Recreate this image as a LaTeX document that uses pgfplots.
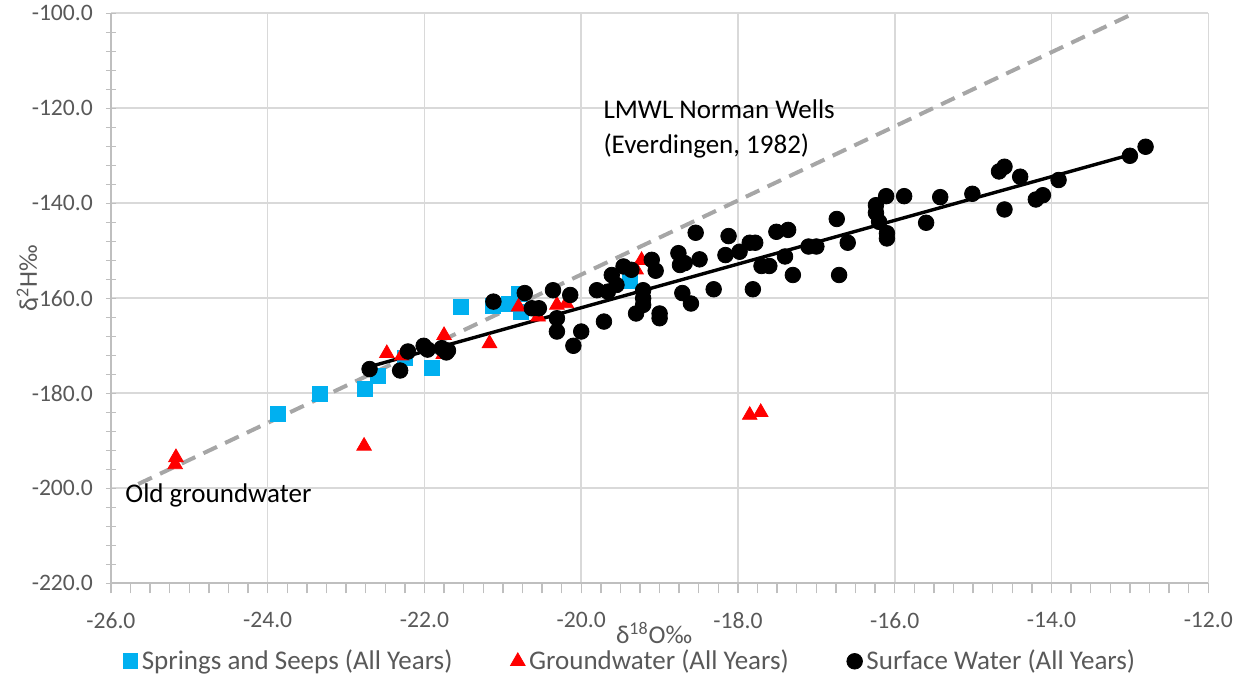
\documentclass[border=0pt]{standalone}
\usepackage{pgfplots}
\pgfplotsset{compat=1.18}
\usepackage{fontspec}
\setmainfont{Carlito}

\definecolor{spring}{HTML}{00B0F0}
\definecolor{lmwl}{HTML}{A6A6A6}
\definecolor{gridc}{HTML}{D9D9D9}
\definecolor{axisc}{HTML}{BFBFBF}
\definecolor{labc}{HTML}{595959}

\begin{document}
\begin{tikzpicture}
\begin{axis}[
  scale only axis,
  width=548.7pt, height=285pt,
  xmin=-26, xmax=-12,
  ymin=-220, ymax=-100,
  xtick={-26,-24,...,-12},
  ytick={-220,-200,...,-100},
  minor x tick num=7,
  minor y tick num=4,
  axis x line*=bottom,
  axis y line*=left,
  axis line style={axisc, line width=0.8pt},
  grid=major,
  major grid style={gridc, line width=0.8pt},
  xtick align=outside,
  ytick align=center,
  major tick length=5pt,
  minor tick length=5pt,
  tick style={axisc, line width=0.7pt},
  /pgf/number format/assume math mode=true,
  /pgf/number format/.cd, fixed, fixed zerofill, precision=1, 1000 sep={},
  /pgfplots/.cd,
  ticklabel style={font=\fontsize{11.8}{14}\selectfont, text=labc},
  xticklabel style={yshift=-6pt},
  yticklabel style={xshift=-3pt},
  xlabel={δ\textsuperscript{18}O‰},
  ylabel={δ\textsuperscript{2}H‰},
  label style={font=\fontsize{12.8}{15}\selectfont, text=labc},
  xlabel style={at={(axis description cs:0.495,0)}, anchor=center, yshift=-25pt},
  ylabel style={at={(axis description cs:0,0.535)}, anchor=center, yshift=42pt},
  legend columns=3,
  legend style={draw=none, fill=none, font=\fontsize{13.5}{16}\selectfont,
    text=labc,
    at={(axis description cs:0.474,0)}, anchor=center, yshift=-39pt,
    /tikz/every even column/.append style={column sep=27pt}},
  legend cell align=left,
]

% Springs and seeps
\addplot[only marks, mark=square*, mark size=3.7pt, color=spring]
coordinates {(-23.87,-184.4)(-23.33,-180.1)(-22.76,-179.1)(-22.59,-176.3)
(-22.25,-172.6)(-21.90,-174.6)(-21.53,-161.8)(-21.13,-161.6)(-20.93,-161.2)
(-20.79,-159.1)(-20.77,-162.9)(-19.38,-156.3)};

% Groundwater
\addplot[only marks, mark=triangle*, mark size=4.2pt, color=red]
coordinates {(-25.17,-193.5)(-25.18,-195.0)(-22.77,-191.1)(-22.48,-171.6)
(-22.29,-172.1)(-21.75,-167.8)(-21.76,-171.8)(-21.17,-169.5)(-20.80,-161.8)
(-20.55,-163.9)(-20.31,-161.4)(-20.19,-161.1)(-19.23,-152.0)(-19.30,-154.0)
(-17.85,-184.6)(-17.71,-184.0)};

% Surface water
\addplot[only marks, mark=*, mark size=3.9pt, color=black]
coordinates {(-22.70,-174.9)(-22.31,-175.2)(-22.21,-171.2)(-22.01,-170.0)
(-21.96,-170.8)(-21.78,-170.5)(-21.70,-171.0)(-21.72,-171.4)(-21.12,-160.7)
(-20.72,-158.9)(-20.63,-162.1)(-20.54,-162.1)(-20.36,-158.3)(-20.31,-164.2)
(-20.31,-167.0)(-20.14,-159.3)(-20.10,-170.0)(-20.00,-167.0)(-19.80,-158.3)
(-19.71,-164.9)(-19.66,-158.6)(-19.61,-155.1)(-19.55,-157.2)(-19.46,-153.3)
(-19.36,-154.0)(-19.30,-163.2)(-19.21,-158.3)(-19.21,-160.0)(-19.21,-161.4)
(-19.10,-151.9)(-19.05,-154.2)(-19.00,-163.2)(-19.00,-164.2)(-18.76,-150.5)
(-18.74,-153.0)(-18.68,-152.6)(-18.71,-158.9)(-18.60,-161.1)(-18.54,-146.2)
(-18.49,-151.8)(-18.31,-158.1)(-18.16,-150.9)(-18.12,-146.9)(-17.98,-150.2)
(-17.85,-148.3)(-17.78,-148.3)(-17.81,-158.1)(-17.70,-153.2)(-17.60,-153.2)
(-17.51,-146.0)(-17.36,-145.6)(-17.40,-151.2)(-17.30,-155.1)(-17.10,-149.1)
(-17.00,-149.1)(-16.74,-143.3)(-16.71,-155.1)(-16.60,-148.3)(-16.24,-140.4)
(-16.24,-142.0)(-16.20,-143.9)(-16.11,-138.5)(-16.10,-146.3)(-16.10,-147.4)
(-15.88,-138.5)(-15.60,-144.1)(-15.42,-138.7)(-15.01,-138.0)(-14.67,-133.3)
(-14.60,-132.3)(-14.60,-141.3)(-14.40,-134.4)(-14.20,-139.2)(-14.11,-138.3)
(-13.91,-135.1)(-13.00,-130.0)(-12.80,-128.1)};

% LMWL Norman Wells
\addplot[forget plot, color=lmwl, line width=2pt, dash pattern=on 7.5pt off 4.5pt]
coordinates {(-25.65,-199.1)(-12.95,-100.0)};

% fitted line
\addplot[forget plot, color=black, line width=1.7pt]
coordinates {(-22.7,-174.4)(-13.0,-129.8)};

\legend{Springs and Seeps (All Years), Groundwater (All Years), Surface Water (All Years)}

\node[anchor=west, align=left, font=\fontsize{13.5}{17.5}\selectfont, inner sep=0pt]
  at (axis cs:-19.72,-124.4) {LMWL Norman Wells\\(Everdingen, 1982)};
\node[anchor=west, font=\fontsize{13.5}{16}\selectfont, inner sep=0pt]
  at (axis cs:-25.82,-201.5) {Old groundwater};
\end{axis}
\pgfresetboundingbox
\path[use as bounding box] (-55.45pt,-47.35pt) rectangle (566.55pt,291.65pt);
\end{tikzpicture}
\end{document}
